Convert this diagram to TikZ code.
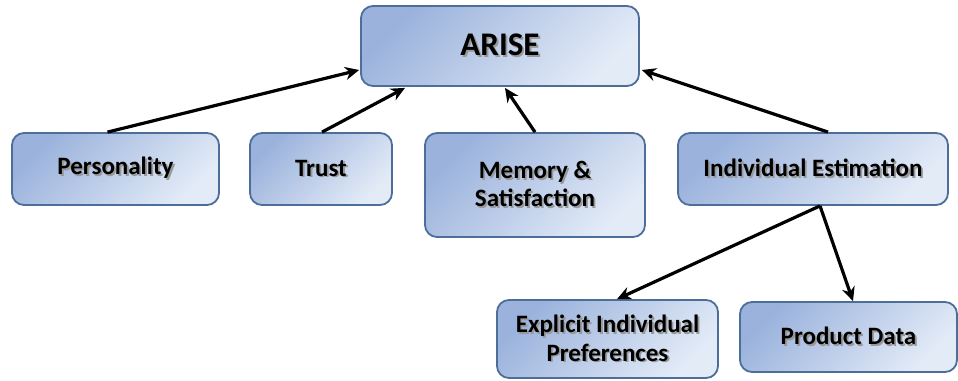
\documentclass[tikz,border=0pt]{standalone}
\usepackage{fontspec}
\setmainfont{Carlito}
\usetikzlibrary{arrows.meta,calc}

\definecolor{boxdark}{HTML}{9AB2DC}
\definecolor{boxlight}{HTML}{E3EBF7}
\definecolor{boxedge}{HTML}{4C6E99}

% bold text with a soft grey offset copy behind it
\newcommand\shtext[1]{\makebox[0pt][l]{\hspace{1.8pt}\raisebox{-1.8pt}{\color{black!40}#1}}#1}

\tikzset{
  topic/.style={draw=boxedge, line width=1.8pt, rounded corners=12pt,
    top color=boxdark, bottom color=boxlight, shading angle=45,
    align=center, inner sep=0pt, font=\bfseries\fontsize{25}{28.5}\selectfont},
  link/.style={line width=3.2pt, -{Stealth[length=14pt,width=13pt]}}
}

\begin{document}
\begin{tikzpicture}[x=1pt,y=-1pt]
\useasboundingbox (0,0) rectangle (958,380);

\node[topic, minimum width=278pt, minimum height=80pt, font=\bfseries\fontsize{33}{36}\selectfont]
  (arise) at (500,46) {\shtext{ARISE}};

\node[topic, minimum width=207pt, minimum height=72pt] (pers) at (115.5,169) {\shtext{Personality}};
\node[topic, minimum width=142pt, minimum height=72pt] (trust) at (321,169) {\shtext{Trust}};
\node[topic, minimum width=220pt, minimum height=104pt] (mem) at (535,185)
  {\shtext{Memory \&}\\\shtext{Satisfaction}};
\node[topic, minimum width=270pt, minimum height=72pt] (ie) at (813,169) {\shtext{Individual Estimation}};
\node[topic, minimum width=221pt, minimum height=78pt] (expl) at (607.5,339)
  {\shtext{Explicit Individual}\\\shtext{Preferences}};
\node[topic, minimum width=217pt, minimum height=70pt] (prod) at (848.5,337) {\shtext{Product Data}};

\draw[link] ($(pers.north)+(-8,0)$) -- ($(arise.west)+(-1,24)$);
\draw[link] ($(trust.north)+(1,0)$) -- ($(arise.south)+(-95,1)$);
\draw[link] (mem.north) -- ($(arise.south)+(5,1)$);
\draw[link] ($(ie.north)+(15,0)$) -- ($(arise.east)+(2,24)$);
\draw[link] ($(ie.south)+(7,0)$) -- ($(expl.north)+(9.5,0)$);
\draw[link] ($(ie.south)+(7,0)$) -- ($(prod.north)+(4.5,0)$);
\end{tikzpicture}
\end{document}
